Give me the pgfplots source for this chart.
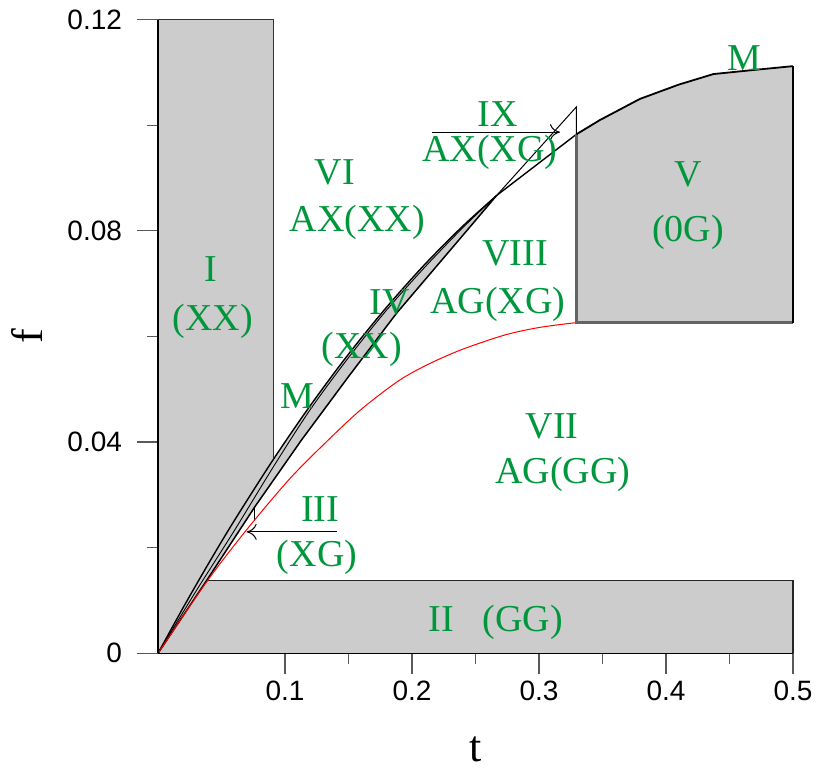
\documentclass[border=0pt]{standalone}
\usepackage{fontspec}
\setmainfont{Liberation Serif}
\newfontfamily\arialf{Liberation Sans}
\usepackage{pgfplots}
\pgfplotsset{compat=1.18}
\usetikzlibrary{arrows.meta}
\definecolor{lblgreen}{RGB}{0,150,60}
\definecolor{fillgray}{RGB}{204,204,204}
\definecolor{edgegray}{RGB}{100,100,100}
\tikzset{lbl/.style={text=lblgreen, font=\fontsize{19}{19}\selectfont, inner sep=0pt, anchor=base}}
\begin{document}
\begin{tikzpicture}
\begin{axis}[
  width=317.5pt, height=316.8pt, scale only axis,
  xmin=0, xmax=0.5, ymin=0, ymax=0.12,
  axis x line*=bottom, axis y line*=left,
  axis line style={black, line width=0.6pt},
  axis on top,
  xtick={0.1,0.2,0.3,0.4,0.5}, xticklabels={0.1,0.2,0.3,0.4,0.5},
  minor xtick={0.15,0.25,0.35,0.45},
  ytick={0,0.04,0.08,0.12}, yticklabels={0,0.04,0.08,0.12},
  minor ytick={0.02,0.06,0.1},
  tick align=outside,
  major tick length=10.5pt, minor tick length=5.5pt,
  tick style={black!65, line width=0.6pt},
  ticklabel style={font=\arialf\fontsize{14}{14}\selectfont},
  yticklabel style={xshift=-4pt},
  clip=false,
  xlabel={t}, ylabel={f},
  xlabel style={at={(axis description cs:0.5,-0.1715)}, anchor=base, font=\fontsize{22}{22}\selectfont},
  ylabel style={at={(axis description cs:-0.1811,0.5)}, anchor=base, font=\fontsize{22}{22}\selectfont},
]
% region I + band IV fill
\addplot[fill=fillgray, draw=none] coordinates {(0,0) (0,0.12) (0.0913,0.12) (0.0913,0.0369) (0.12,0.04695) (0.15,0.05666) (0.18,0.06555) (0.21,0.07364) (0.24,0.08091) (0.2666,0.0867) (0.2377,0.0785) (0.1878,0.0644) (0.15,0.0524) (0.113,0.0404) (0.0764,0.0278) (0.0383,0.0138) (0,0)} -- cycle;
% region II fill
\addplot[fill=fillgray, draw=none] coordinates {(0,0) (0.0385,0.0138) (0.5,0.0138) (0.5,0)} -- cycle;
% region V fill
\addplot[fill=fillgray, draw=none] coordinates {(0.3295,0.0626) (0.3295,0.0983) (0.348,0.1010) (0.3795,0.1050) (0.41,0.1077) (0.4373,0.1097) (0.47,0.1105) (0.5,0.1112) (0.5,0.0626)} -- cycle;
% region I outline
\addplot[black!80, line width=0.5pt] coordinates {(0,0.12) (0.0913,0.12) (0.0913,0.0369)};
% region II outline
\addplot[black!85, line width=0.6pt] coordinates {(0.0385,0.0138) (0.5,0.0138) (0.5,0)};
% M curve
\addplot[black, line width=0.7pt, smooth] coordinates {(0,0) (0.02,0.00873) (0.04,0.01709) (0.06,0.02510) (0.0913,0.0369) (0.12,0.04695) (0.15,0.05666) (0.18,0.06555) (0.21,0.07364) (0.24,0.08091) (0.2666,0.0867)};
\addplot[black, line width=0.7pt] coordinates {(0.2666,0.0867) (0.3295,0.0983)};
% band upper
\addplot[black, line width=0.45pt, smooth] coordinates {(0,0) (0.03,0.0118) (0.06,0.0232) (0.0913,0.0355) (0.12,0.0462) (0.15,0.0560) (0.18,0.0650) (0.21,0.0731) (0.24,0.0806) (0.2666,0.0867)};
% band lower
\addplot[black, line width=0.75pt] coordinates {(0,0) (0.0383,0.0138) (0.0764,0.0278) (0.113,0.0404) (0.15,0.0524) (0.1878,0.0644) (0.2377,0.0785) (0.2666,0.0867)};
% region III closing segment
\addplot[black, line width=0.5pt] coordinates {(0.0762,0.0251) (0.0762,0.0277)};
% red curve
\addplot[red, line width=0.5pt, smooth] coordinates {(0,0) (0.0391,0.0138) (0.0698,0.0234) (0.1039,0.0331) (0.1341,0.0404) (0.16,0.0462) (0.19,0.0517) (0.2142,0.0549) (0.24,0.0576) (0.2733,0.0603) (0.30,0.0617) (0.3283,0.0626)};
% region V edges
\addplot[edgegray, line width=1.3pt] coordinates {(0.3295,0.0983) (0.3295,0.0626) (0.5,0.0626)};
\addplot[black, line width=1.3pt] coordinates {(0.5,0.0626) (0.5,0.1112)};
\addplot[black, line width=0.9pt] coordinates {(0.3295,0.0983) (0.348,0.1010) (0.3795,0.1050) (0.41,0.1077) (0.4373,0.1097) (0.47,0.1105) (0.5,0.1112)};
% region IX
\addplot[black, line width=0.5pt] coordinates {(0.2666,0.0867) (0.3295,0.1035) (0.3295,0.0983)};
% arrows
\addplot[black, line width=0.5pt, -{To[length=5pt,width=8pt]}] coordinates {(0.2157,0.0987) (0.3165,0.0987)};
\addplot[black, line width=0.5pt, -{To[length=5pt,width=8pt]}] coordinates {(0.1406,0.0230) (0.0698,0.0230)};
% labels
\node[lbl] at (axis cs:0.0417,0.0704) {I};
\node[lbl] at (axis cs:0.0433,0.0612) {(XX)};
\node[lbl] at (axis cs:0.1394,0.0887) {VI};
\node[lbl] at (axis cs:0.1571,0.0798) {AX(XX)};
\node[lbl] at (axis cs:0.2677,0.0997) {IX};
\node[lbl] at (axis cs:0.2614,0.0931) {AX(XG)};
\node[lbl] at (axis cs:0.4173,0.0884) {V};
\node[lbl] at (axis cs:0.4173,0.0780) {(0G)};
\node[lbl] at (axis cs:0.2811,0.0735) {VIII};
\node[lbl] at (axis cs:0.2677,0.0644) {AG(XG)};
\node[lbl] at (axis cs:0.1827,0.0641) {IV};
\node[lbl] at (axis cs:0.1606,0.0559) {(XX)};
\node[lbl] at (axis cs:0.1098,0.0464) {M};
\node[lbl] at (axis cs:0.1276,0.0249) {III};
\node[lbl] at (axis cs:0.1252,0.0164) {(XG)};
\node[lbl] at (axis cs:0.3102,0.0407) {VII};
\node[lbl] at (axis cs:0.3189,0.0322) {AG(GG)};
\node[lbl] at (axis cs:0.2232,0.0041) {II};
\node[lbl] at (axis cs:0.2874,0.0041) {(GG)};
\node[lbl] at (axis cs:0.4614,0.1104) {M};
\coordinate (llc) at (rel axis cs:0,0);
\coordinate (urc) at (rel axis cs:1,1);
\end{axis}
\pgfresetboundingbox
\path[use as bounding box] ([xshift=-79pt,yshift=-57.85pt]llc) rectangle ([xshift=11.5pt,yshift=9.85pt]urc);
\end{tikzpicture}
\end{document}
